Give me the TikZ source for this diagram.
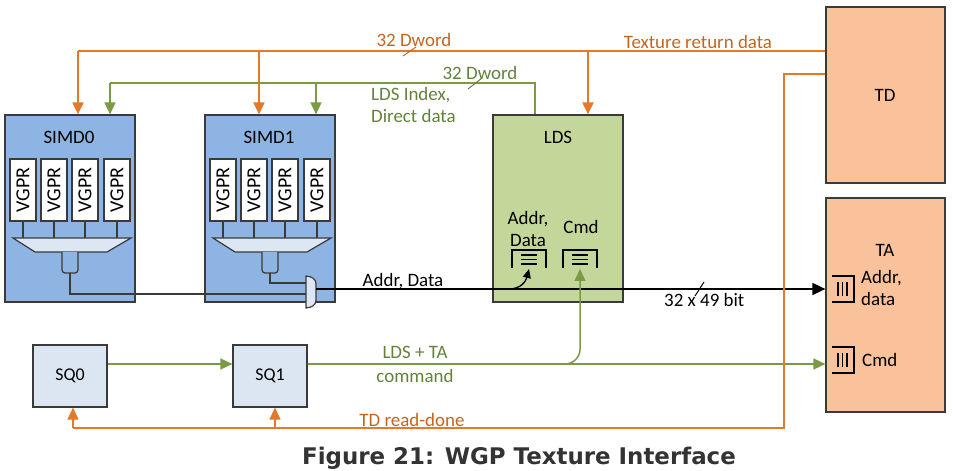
\documentclass[tikz,border=0pt]{standalone}
\usepackage{fontspec}
\setmainfont{Carlito}
\newfontfamily\capfont{DejaVu Sans}
\usetikzlibrary{arrows.meta}
\definecolor{boxline}{HTML}{3A3A3A}
\definecolor{simdblue}{HTML}{8DB4E2}
\definecolor{muxfill}{HTML}{DDE7F3}
\definecolor{ldsgreen}{HTML}{C4D79B}
\definecolor{peach}{HTML}{F9C29A}
\definecolor{sqfill}{HTML}{DCE6F2}
\definecolor{orng}{HTML}{E3792B}
\definecolor{orngtxt}{HTML}{C4651F}
\definecolor{grn}{HTML}{7A9A45}
\definecolor{grntxt}{HTML}{62823A}
\definecolor{capgray}{HTML}{333333}
\tikzset{
  blk/.style={draw=boxline, line width=1.2bp},
  bigbox/.style={blk, inner sep=0pt, minimum width=130bp, minimum height=187bp},
  vgprbox/.style={blk, fill=white, inner sep=0pt, minimum width=26bp, minimum height=62bp},
  sqbox/.style={blk, fill=sqfill, inner sep=0pt, minimum width=74bp, minimum height=62bp},
  lbl/.style={inner sep=0pt, font=\fontsize{19}{22}\selectfont},
  olbl/.style={lbl, text=orngtxt},
  glbl/.style={lbl, text=grntxt},
  oline/.style={draw=orng, line width=2bp},
  othin/.style={draw=orng, line width=1.2bp},
  gline/.style={draw=grn, line width=1.5bp},
  kline/.style={draw=black, line width=1.4bp},
  otip/.style={-{Triangle[width=11bp,length=12bp]}},
  buf/.style={draw=black, line width=1.8bp},
}
\begin{document}
\begin{tikzpicture}[x=1bp,y=-1bp]
\useasboundingbox (0,0) rectangle (953,471);

% ---------- main boxes
\node[bigbox, fill=simdblue] (simd0) at (70,208.5) {};
\node[bigbox, fill=simdblue] (simd1) at (270,208.5) {};
\node[bigbox, fill=ldsgreen] (lds) at (558,208.5) {};
\node[blk, fill=peach, inner sep=0pt, minimum width=119bp, minimum height=176bp] (td) at (885.5,95) {};
\node[blk, fill=peach, inner sep=0pt, minimum width=119bp, minimum height=214bp] (ta) at (885.5,305) {};
\node[sqbox] (sq0) at (70,376) {};
\node[sqbox] (sq1) at (270,376) {};
\node[lbl, font=\fontsize{18}{21}\selectfont] (sq0t) at (70,376) {SQ0};
\node[lbl, font=\fontsize{18}{21}\selectfont] (sq1t) at (270,376) {SQ1};

\node[lbl] (simd0t) at (69,137) {SIMD0};
\node[lbl] (simd1t) at (269,137) {SIMD1};
\node[lbl] (ldst) at (558,137) {LDS};
\node[lbl] (tdt) at (885,95) {TD};
\node[lbl] (tat) at (885,250) {TA};

% ---------- SIMD internals
\foreach \o/\n in {0/0,200/1}{
  \foreach \k/\cx in {1/23,2/54,3/85,4/117}{
    \node[vgprbox] (vg\n\k) at ({\cx+\o},190) {\rotatebox{90}{\fontsize{20}{22}\selectfont VGPR}};
    \draw[blk] (vg\n\k.south) -- ++(0,17);
  }
  \draw[blk, fill=muxfill] ({13+\o},238) -- ({131+\o},238) -- ({107+\o},252) -- ({35+\o},252) -- cycle;
  \draw[blk, fill=simdblue, rounded corners=3bp] ({62+\o},252) -- ({62+\o},273) -- ({78+\o},273) -- ({78+\o},252);
  \coordinate (u\n) at ({70+\o},273);
}
% gate in SIMD1
\draw[blk, fill=muxfill] (306,276) .. controls (312,276.5) and (316,279) .. (316,284) -- (316,300) .. controls (316,305) and (312,307.5) .. (306,308) -- cycle;
\coordinate (gin1) at (306,283);
\coordinate (gin0) at (306,294);
\coordinate (gout) at (316,289);
\draw[blk] (u1) |- (gin1);
\draw[blk] (u0) |- (gin0);

% ---------- Addr/Data to TA
\draw[kline, -{Triangle[width=12bp,length=13bp]}] (gout) -- (ta.west |- gout);
\node[lbl] (addrdata) at (403,281) {Addr, Data};
\node[lbl, anchor=west] (bits) at (664,300) {32 x 49 bit};
\draw[draw=black, line width=1bp] (695,296) -- (704,282);

% ---------- LDS buffers
\node[lbl, align=center] (ldsad) at (528,229) {Addr,\\Data};
\node[lbl] (ldscmd) at (581,227) {Cmd};
\foreach \nm/\xa in {bufa/512,bufc/563}{
  \draw[buf] (\xa,268) -- (\xa,250) -- ({\xa+34},250) -- ({\xa+34},268);
  \foreach \yy in {255,259.5,264}{ \draw[draw=black, line width=1.3bp] ({\xa+9},\yy) -- ({\xa+25},\yy); }
  \coordinate (\nm) at ({\xa+17},269);
}
\coordinate (curvestart) at (509,289);
\draw[draw=black, line width=1.3bp, -{Triangle[width=8bp,length=9bp]}] (curvestart) .. controls (521,289) and (526,281) .. (bufa);

% ---------- TA buffers
\foreach \nm/\ya in {tbufa/276,tbufc/347}{
  \draw[buf] (832,\ya) -- (854,\ya) -- (854,{\ya+26}) -- (832,{\ya+26});
  \foreach \xx in {838,842.5,847}{ \draw[draw=black, line width=1.3bp] (\xx,{\ya+6}) -- (\xx,{\ya+20}); }
}
\node[lbl, align=left, anchor=west] (taad) at (861,288) {Addr,\\data};
\node[lbl, anchor=west] (tacmd) at (862,360) {Cmd};

% ---------- orange top bus (Texture return data)
\coordinate (obus) at (td.west |- 0,51);
\coordinate (o0) at (78,51);
\coordinate (o1) at (259,51);
\coordinate (o2) at (588,51);
\draw[oline] (obus) -- (o0);
\draw[oline, otip] (o0) -- (o0 |- simd0.north);
\draw[oline, otip] (o1) -- (o1 |- simd1.north);
\draw[oline, otip] (o2) -- (o2 |- lds.north);
\node[olbl] (dw1) at (414,40) {32 Dword};
\draw[draw=orngtxt, line width=1bp] (403,56) -- (416,47);
\node[olbl] (texret) at (698,42) {Texture return data};

% ---------- green bus (LDS index, direct data)
\coordinate (g0) at (110,83);
\coordinate (g1) at (316,83);
\coordinate (gcorner) at (535,83);
\draw[gline] (gcorner |- lds.north) -- (gcorner) -- (g0);
\draw[gline, otip] (g0) -- (g0 |- simd0.north);
\draw[gline, otip] (g1) -- (g1 |- simd1.north);
\node[glbl] (dw2) at (480,73) {32 Dword};
\draw[draw=grntxt, line width=1bp] (468,89) -- (482,78);
\node[glbl, align=left, anchor=north west] (ldsidx) at (371,87) {LDS Index,\\Direct data};

% ---------- SQ connections
\draw[gline, otip] (sq0.east |- 0,364) -- (sq1.west |- 0,364);
\coordinate (sq1out) at (sq1.east |- 0,364);
\draw[gline, otip, rounded corners=15bp] (sq1out) -| (bufc);
\draw[gline, otip] (sq1out) -- (ta.west |- sq1out);
\node[glbl] (ldsta) at (415,352) {LDS + TA};
\node[glbl] (cmdl) at (415,376) {command};

% ---------- TD read-done
\coordinate (tdrd) at (td.west |- 0,74);
\coordinate (r0) at (73,428);
\coordinate (r1) at (275,428);
\draw[othin] (tdrd) -- (784,74) -- (784,428) -- (r0);
\draw[othin, otip] (r0) -- (r0 |- sq0.south);
\draw[othin, otip] (r1) -- (r1 |- sq1.south);
\node[olbl] (tdrdl) at (412,420) {TD read-done};

% ---------- caption
\node[anchor=base, inner sep=0pt, text=capgray, font=\capfont\bfseries\fontsize{23}{26}\selectfont] (cap) at (519,464) {Figure 21: WGP Texture Interface};
\end{tikzpicture}
\end{document}
